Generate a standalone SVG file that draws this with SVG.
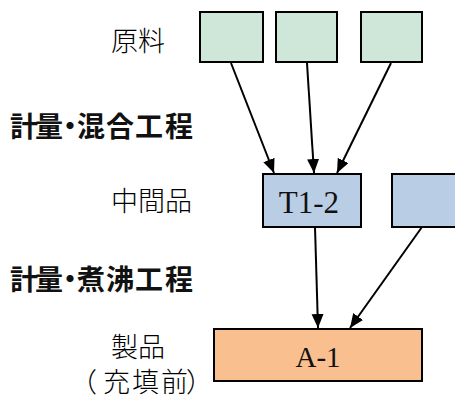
<svg xmlns="http://www.w3.org/2000/svg" width="455" height="401" viewBox="0 0 455 401">
<style>
.lbl{font-family:"Noto Sans CJK JP","Noto Sans CJK SC",sans-serif;font-size:27px;font-weight:300;fill:#000}
.hd{font-family:"Noto Sans CJK JP","Noto Sans CJK SC",sans-serif;font-size:28px;font-weight:bold;fill:#111}
.box{stroke:#000;stroke-width:2}
.g{fill:#CFE7D9}
.b{fill:#B9CDE4}
.o{fill:#F9BF8F}
.nt{font-family:"Liberation Serif",serif;fill:#111;text-anchor:middle}
.ln{stroke:#000;stroke-width:2;fill:none;marker-end:url(#ah)}
</style>
<defs>
<marker id="ah" markerUnits="userSpaceOnUse" markerWidth="15" markerHeight="13" refX="14" refY="6" orient="auto" viewBox="0 0 15 13">
<path d="M0,0 L14,6 L0,12 z" fill="#000"/>
</marker>
</defs>
<g id="labels">
<text class="lbl" x="111" y="51">原料</text>
<text class="hd" x="10 35 56 77 106 135 165" y="137">計量・混合工程</text>
<text class="hd" x="10 35 56 77 106 135 165" y="290">計量・煮沸工程</text>
<text class="lbl" x="111" y="211">中間品</text>
<text class="lbl" x="111" y="357">製品</text>
<text class="lbl" x="70 103 132 161 186" y="392">（充填前）</text>
</g>
<g id="connectors">
<line class="ln" x1="231" y1="63" x2="274" y2="173"/>
<line class="ln" x1="307" y1="63" x2="314" y2="173"/>
<line class="ln" x1="391" y1="63" x2="337" y2="173"/>
<line class="ln" x1="315" y1="227" x2="318" y2="328"/>
<line class="ln" x1="422" y1="227" x2="350" y2="328"/>
</g>
<g id="raw1"><rect class="box g" x="200" y="12" width="63" height="50"/></g>
<g id="raw2"><rect class="box g" x="276" y="12" width="61" height="50"/></g>
<g id="raw3"><rect class="box g" x="361" y="12" width="61" height="50"/></g>
<g id="T1-2"><rect class="box b" x="263" y="174" width="98" height="53"/><text class="nt" x="309" y="213" font-size="31">T1-2</text></g>
<g id="inter2"><rect class="box b" x="392" y="174" width="100" height="53"/></g>
<g id="A-1"><rect class="box o" x="214" y="329" width="208" height="52"/><text class="nt" x="318" y="367" font-size="29">A-1</text></g>
</svg>
